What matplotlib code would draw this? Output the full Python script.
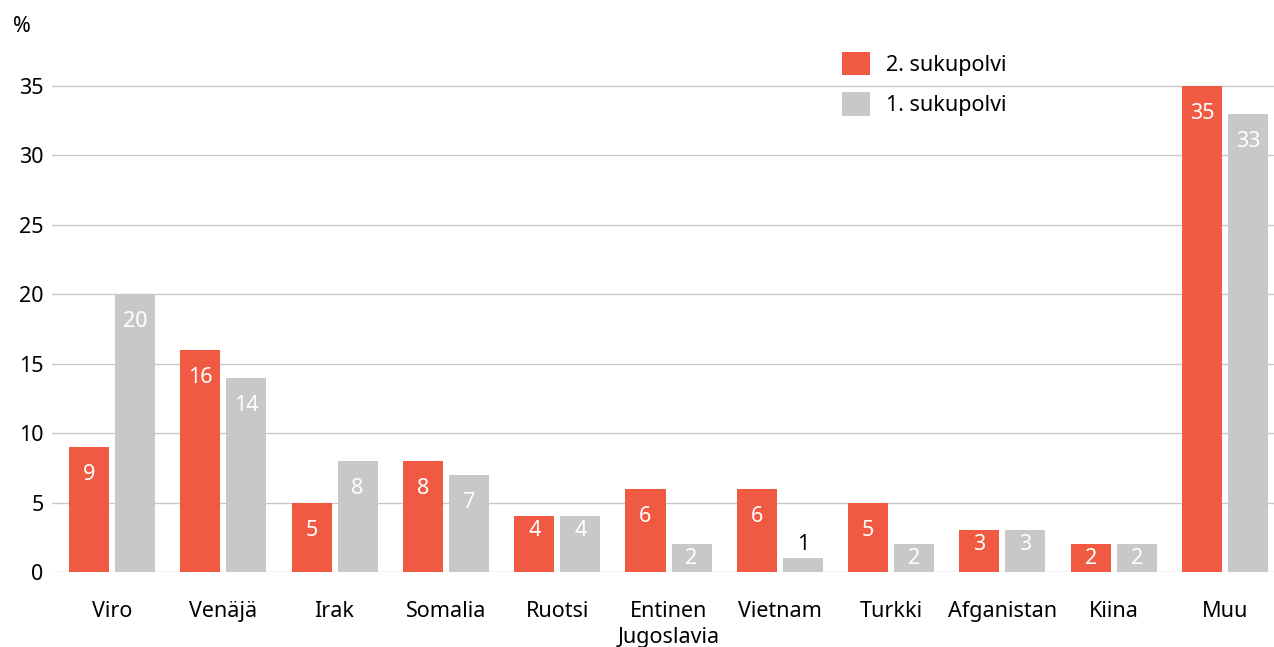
import matplotlib.pyplot as plt
from matplotlib.patches import Rectangle
import numpy as np

plt.rcParams['font.family'] = ['Noto Sans', 'DejaVu Sans']

maat = ["Viro", "Venäjä", "Irak", "Somalia", "Ruotsi", "Entinen\nJugoslavia",
        "Vietnam", "Turkki", "Afganistan", "Kiina", "Muu"]
toinen = [9, 16, 5, 8, 4, 6, 6, 5, 3, 2, 35]
ensimmainen = [20, 14, 8, 7, 4, 2, 1, 2, 3, 2, 33]
yticks = [0, 5, 10, 15, 20, 25, 30, 35]

RED = "#F15A42"
GREY = "#C8C9C7"
FS = 15.5

fig = plt.figure(figsize=(12.74, 6.47), dpi=100)
ax = fig.add_axes([52 / 1274, 1 - 572 / 647, 1 - 52 / 1274, (572 - 58) / 647])

x = np.arange(len(maat))
w = 0.36
off = 0.207
ax.bar(x - off, toinen, w, color=RED, label="2. sukupolvi", zorder=2)
ax.bar(x + off, ensimmainen, w, color=GREY, label="1. sukupolvi", zorder=2)


def label_pos(v):
    # arvo palkin sisään, pienille palkeille lähemmäs yläreunaa
    if v >= 5:
        return v - 2, "white"
    if v >= 2:
        return v - 1, "white"
    return v + 1, "black"


for xs, vals in [(x - off, toinen), (x + off, ensimmainen)]:
    for xi, v in zip(xs, vals):
        y, c = label_pos(v)
        ax.text(xi, y, str(v), ha="center", va="center", color=c, fontsize=FS, zorder=3)

ax.set_xlim(-0.539, 10.44)
ax.set_ylim(0, 37)
ax.set_yticks(yticks)
ax.set_xticks(x)
ax.set_xticklabels(maat, fontsize=FS, va="top", linespacing=1.3)
ax.tick_params(axis="x", length=0, pad=21)
ax.tick_params(axis="y", length=0, pad=6, labelsize=FS)
ax.yaxis.grid(True, color="#C8C8C8", linewidth=1, zorder=0)
for s in ax.spines.values():
    s.set_visible(False)

fig.text(22 / 1274, 1 - 27 / 647, "%", ha="center", va="center", fontsize=FS)

# valkoinen tausta selitteen kohdalle
ax.add_patch(Rectangle((777 / 1274, 1 - 92 / 647), 293 / 1274, 12 / 647,
                       transform=fig.transFigure, facecolor="white",
                       edgecolor="none", zorder=1, clip_on=False))

leg = ax.legend(loc="upper left", bbox_to_anchor=(842 / 1274, 1 - 52 / 647),
                bbox_transform=fig.transFigure, frameon=False, fontsize=FS,
                handlelength=1.3, handleheight=1.3, borderpad=0,
                borderaxespad=0, labelspacing=0.75, handletextpad=0.75)

fig.savefig("out.png", dpi=100)
